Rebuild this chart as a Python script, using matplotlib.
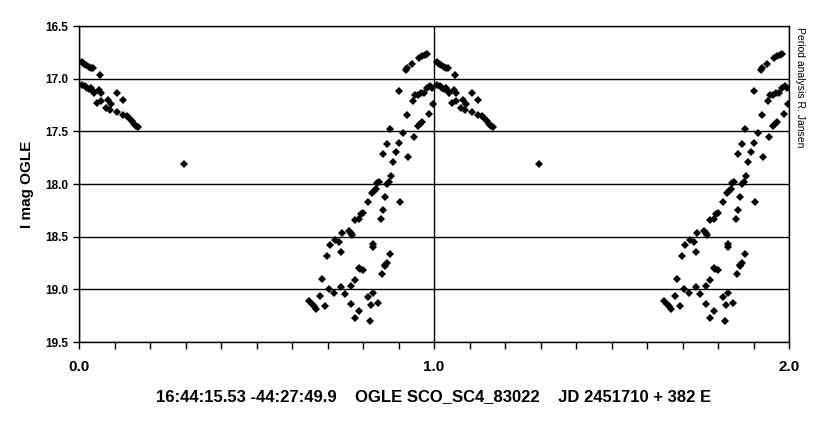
import numpy as np
import matplotlib
matplotlib.use("Agg")
import matplotlib.pyplot as plt
from matplotlib.ticker import MultipleLocator, FormatStrFormatter

# one cycle of the folded light curve (phase, I mag); drawn twice
phase = [
    0.008, 0.014, 0.021, 0.027, 0.035, 0.039, 0.059,
    0.008, 0.016, 0.023, 0.028, 0.035, 0.039, 0.042, 0.055, 0.061,
    0.052, 0.061, 0.082, 0.089, 0.076, 0.087, 0.106, 0.123, 0.106,
    0.123, 0.134, 0.140, 0.149, 0.155, 0.161, 0.166, 0.295,
    0.921, 0.925, 0.938, 0.957, 0.966, 0.974, 0.981,
    0.901, 0.940, 0.947, 0.955, 0.962, 0.972, 0.981, 0.989, 0.994,
    0.923, 0.998, 0.985, 0.955, 0.961, 0.966, 0.914, 0.944, 0.876,
    0.901, 0.867, 0.893, 0.857, 0.884, 0.927, 0.878, 0.872, 0.869,
    0.844, 0.840, 0.863, 0.904, 0.825, 0.831, 0.837, 0.814, 0.855,
    0.799, 0.794, 0.850, 0.778, 0.788, 0.760, 0.765, 0.769, 0.741,
    0.722, 0.732, 0.707, 0.737, 0.698, 0.829, 0.827, 0.876, 0.867,
    0.863, 0.861, 0.854, 0.788, 0.792, 0.799, 0.778, 0.685, 0.765,
    0.703, 0.718, 0.737, 0.750, 0.679, 0.649, 0.656, 0.662, 0.668,
    0.692, 0.767, 0.827, 0.814, 0.822, 0.842, 0.790, 0.778, 0.820,
]
mag = [
    16.838, 16.857, 16.873, 16.889, 16.899, 16.902, 16.966,
    17.057, 17.071, 17.086, 17.102, 17.093, 17.118, 17.140, 17.109, 17.140,
    17.229, 17.210, 17.198, 17.236, 17.277, 17.293, 17.140, 17.204, 17.318,
    17.344, 17.357, 17.376, 17.405, 17.427, 17.446, 17.458, 17.811,
    16.921, 16.902, 16.857, 16.806, 16.784, 16.775, 16.768,
    17.118, 17.214, 17.159, 17.153, 17.140, 17.134, 17.086, 17.071, 17.093,
    17.341, 17.245, 17.331, 17.446, 17.429, 17.410, 17.515, 17.557, 17.477,
    17.614, 17.617, 17.700, 17.719, 17.789, 17.748, 17.920, 17.983, 17.999,
    17.977, 17.992, 18.120, 18.171, 18.085, 18.069, 18.050, 18.168, 18.250,
    18.273, 18.285, 18.333, 18.343, 18.336, 18.445, 18.469, 18.486, 18.469,
    18.527, 18.546, 18.581, 18.641, 18.686, 18.572, 18.597, 18.667, 18.746,
    18.765, 18.781, 18.858, 18.794, 18.803, 18.813, 18.915, 18.903, 18.969,
    18.998, 19.036, 18.979, 19.049, 19.068, 19.113, 19.137, 19.157, 19.182,
    19.154, 19.137, 19.032, 19.074, 19.144, 19.132, 19.208, 19.271, 19.297,
]

title_text = "16:44:15.53 -44:27:49.9    OGLE SCO_SC4_83022    JD 2451710 + 382 E"
credit = "Period analysis R. Jansen"

plt.rcParams["font.family"] = ["Liberation Sans", "DejaVu Sans"]

fig = plt.figure(figsize=(8.14, 4.23), dpi=100)
ax = fig.add_axes([79 / 814, 1 - 342 / 423, 710 / 814, 316 / 423])

ph = np.array(phase)
mg = np.array(mag)
for shift in (0.0, 1.0):
    ax.plot(ph + shift, mg, linestyle="none", marker="D", markersize=4.3,
            color="black", markeredgewidth=0, zorder=3)

ax.set_xlim(0, 2)
ax.set_ylim(19.5, 16.5)

ax.xaxis.set_major_locator(MultipleLocator(1.0))
ax.xaxis.set_minor_locator(MultipleLocator(0.1))
ax.xaxis.set_major_formatter(FormatStrFormatter("%.1f"))
ax.yaxis.set_major_locator(MultipleLocator(0.5))
ax.yaxis.set_major_formatter(FormatStrFormatter("%.1f"))

ax.grid(True, which="major", color="black", linewidth=1.0)
ax.set_axisbelow(True)
for sp in ax.spines.values():
    sp.set_linewidth(1.0)

ax.tick_params(axis="x", which="both", direction="out", length=5, width=1,
               labelsize=11, pad=8)
ax.tick_params(axis="y", which="major", direction="out", length=4, width=1,
               labelsize=8.5, pad=4)
for lbl in ax.get_xticklabels() + ax.get_yticklabels():
    lbl.set_fontweight("bold")

ax.set_ylabel("I mag OGLE", fontsize=11, fontweight="bold", labelpad=8)
ax.set_xlabel(title_text, fontsize=12, fontweight="bold", labelpad=11)

fig.text(800 / 814, 1 - 27 / 423, credit, rotation=-90, fontsize=7.5,
         ha="center", va="top")

fig.savefig("out.png", dpi=100)
